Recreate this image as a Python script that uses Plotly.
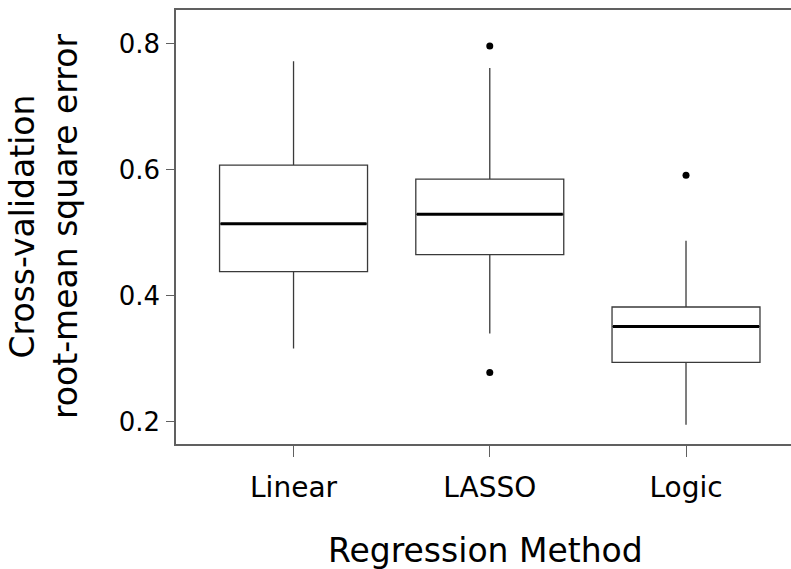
import plotly.graph_objects as go

methods = ["Linear", "LASSO", "Logic"]
q1 = [0.438, 0.465, 0.294]
median = [0.514, 0.529, 0.351]
q3 = [0.607, 0.585, 0.382]
lower_whisker = [0.316, 0.340, 0.195]
upper_whisker = [0.772, 0.761, 0.487]
outlier_x = [1, 1, 2]
outlier_y = [0.796, 0.278, 0.591]
y_ticks = [0.2, 0.4, 0.6, 0.8]

box_w = 0.754
fig = go.Figure()
for i, m in enumerate(methods):
    fig.add_trace(go.Box(
        x=[i], q1=[q1[i]], median=[median[i]], q3=[q3[i]],
        lowerfence=[lower_whisker[i]], upperfence=[upper_whisker[i]],
        width=box_w, whiskerwidth=0, boxpoints=False,
        fillcolor="white", line=dict(color="#3a3a3a", width=1.3),
        name=m, showlegend=False, hoverinfo="skip"))
    fig.add_trace(go.Scatter(
        x=[i - box_w / 2 + 0.005, i + box_w / 2 - 0.005], y=[median[i], median[i]],
        mode="lines", line=dict(color="black", width=3),
        showlegend=False, hoverinfo="skip"))

fig.add_trace(go.Scatter(
    x=outlier_x, y=outlier_y, mode="markers",
    marker=dict(color="black", size=7), showlegend=False, hoverinfo="skip"))

font_family = "DejaVu Sans, Verdana, sans-serif"
fig.update_layout(
    width=791, height=569,
    margin=dict(l=176, r=0, t=10, b=125),
    paper_bgcolor="white", plot_bgcolor="white",
    font=dict(family=font_family, color="black"),
    xaxis=dict(range=[-0.599, 2.535], tickvals=[0, 1, 2], ticktext=methods,
               showline=True, mirror=True, linecolor="#606060", linewidth=1.6,
               ticks="outside", ticklen=11, tickcolor="#606060", tickwidth=1.3,
               showgrid=False, zeroline=False, tickfont=dict(size=28),
               ticklabelstandoff=7),
    yaxis=dict(range=[0.1646, 0.8532], tickvals=y_ticks,
               ticktext=[f"{v:.1f}" for v in y_ticks],
               showline=True, mirror=False, linecolor="#606060", linewidth=1.6,
               ticks="outside", ticklen=8, tickcolor="#606060", tickwidth=1.3,
               showgrid=False, zeroline=False, tickfont=dict(size=26),
               ticklabelstandoff=1),
    annotations=[
        dict(text="Regression Method", xref="paper", yref="paper",
             x=(485 - 176) / 615, y=0, yshift=-(550 - 444), xanchor="center",
             yanchor="middle", showarrow=False, font=dict(size=33)),
        dict(text="Cross-validation<br>root-mean square error", xref="paper", yref="paper",
             x=0, xshift=-(176 - 44), y=0.5, xanchor="center", yanchor="middle",
             textangle=-90, showarrow=False, font=dict(size=33)),
    ],
)
fig.write_html("out.html")
